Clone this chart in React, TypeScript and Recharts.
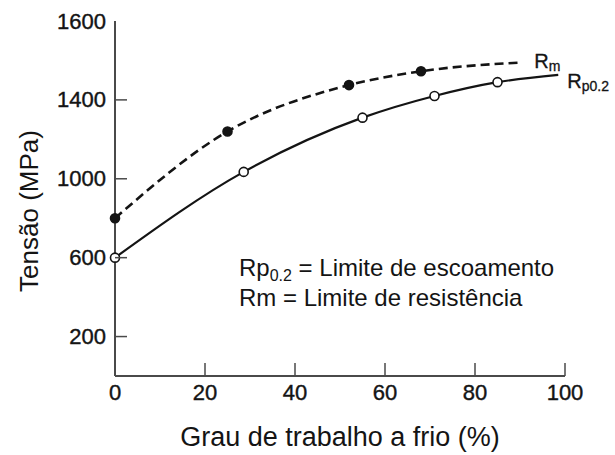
import { LineChart, Line, XAxis, YAxis, Customized } from "recharts";

// Cold work (%) vs stress (MPa)
const rmX = [0, 25, 52, 68, 90.5];
const rmY = [800, 1240, 1475, 1545, 1590];
const rmMarked = [true, true, true, true, false];

const rpX = [0, 28.6, 55, 71, 85, 98.5];
const rpY = [600, 1035, 1310, 1420, 1490, 1527];
const rpMarked = [true, true, true, true, true, false];

const xTicks = [0, 20, 40, 60, 80, 100];
const yTicks = [200, 600, 1000, 1400, 1800];
const yTickLabels = ["200", "600", "1000", "1400", "1600"];

const FONT = "'Liberation Sans', Arial, Helvetica, sans-serif";
const INK = "#141414";
const AXIS = "#4a4a4a";

const rmData = rmX.map((x, i) => ({ x, y: rmY[i], marked: rmMarked[i] }));
const rpData = rpX.map((x, i) => ({ x, y: rpY[i], marked: rpMarked[i] }));

function makeDot(filled: boolean) {
  return (props: any) => {
    const { cx, cy, payload, index } = props;
    if (!payload.marked) return <g key={`d${index}`} />;
    return (
      <circle
        key={`d${index}`}
        cx={cx}
        cy={cy}
        r={4.5}
        fill={filled ? INK : "#fff"}
        stroke={INK}
        strokeWidth={1.6}
      />
    );
  };
}

function makeEndLabel(sub: string, last: number, dx: number, dy: number) {
  return (props: any) => {
    const { x, y, index } = props;
    if (index !== last) return <g key={`l${index}`} />;
    return (
      <text
        key={`l${index}`}
        x={x + dx}
        y={y + dy}
        fontFamily={FONT}
        fontSize={20}
        fill={INK}
        stroke={INK}
        strokeWidth={0.3}
      >
        R
        <tspan fontSize={14} dy={3}>
          {sub}
        </tspan>
      </text>
    );
  };
}

const YTick = (props: any) => {
  const { x, y, payload, index } = props;
  const axisX = x + 9;
  return (
    <g>
      {index < yTicks.length - 1 && (
        <line x1={axisX} y1={y} x2={axisX + 12} y2={y} stroke={AXIS} strokeWidth={1.5} />
      )}
      <text
        x={x}
        y={y}
        textAnchor="end"
        dominantBaseline="central"
        fontFamily={FONT}
        fontSize={22}
        fill={INK}
        stroke={INK}
        strokeWidth={0.4}
      >
        {yTickLabels[yTicks.indexOf(payload.value)]}
      </text>
    </g>
  );
};

const XTick = (props: any) => {
  const { x, y, payload } = props;
  const axisY = y - 8;
  return (
    <g>
      {payload.value !== 0 && (
        <line x1={x} y1={axisY} x2={x} y2={axisY - 13} stroke={AXIS} strokeWidth={1.5} />
      )}
      <text
        x={x}
        y={y + 16}
        textAnchor="middle"
        fontFamily={FONT}
        fontSize={22}
        fill={INK}
        stroke={INK}
        strokeWidth={0.4}
      >
        {payload.value}
      </text>
    </g>
  );
};

const Notes = () => (
  <g fontFamily={FONT} fill={INK}>
    <text
      x={29}
      y={211}
      fontSize={26}
      textAnchor="middle"
      dominantBaseline="central"
      transform="rotate(-90 29 211)"
    >
      Tensão (MPa)
    </text>
    <text x={239} y={276} fontSize={24}>
      Rp
      <tspan fontSize={16} dy={5}>
        0.2
      </tspan>
      <tspan dy={-5}> = Limite de escoamento</tspan>
    </text>
    <text x={239} y={306} fontSize={24}>
      Rm = Limite de resistência
    </text>
  </g>
);

export default function App() {
  return (
    <div style={{ position: "absolute", left: 0, top: 0, width: 615, height: 455, background: "#fff" }}>
      <LineChart
        width={615}
        height={455}
        margin={{ top: 21, right: 50, bottom: 3, left: 55 }}
      >
        <XAxis
          type="number"
          dataKey="x"
          domain={[0, 100]}
          ticks={xTicks}
          height={76}
          tickSize={0}
          tickMargin={8}
          tickLine={false}
          axisLine={{ stroke: AXIS, strokeWidth: 2 }}
          tick={<XTick />}
          label={{
            value: "Grau de trabalho a frio (%)",
            position: "insideBottom",
            offset: 6,
            fontSize: 27,
            fontFamily: FONT,
            fill: INK,
          }}
        />
        <YAxis
          type="number"
          domain={[0, 1800]}
          ticks={yTicks}
          width={60}
          tickSize={0}
          tickMargin={9}
          tickLine={false}
          axisLine={{ stroke: AXIS, strokeWidth: 2 }}
          tick={<YTick />}
        />
        <Line
          data={rmData}
          dataKey="y"
          type="monotone"
          stroke={INK}
          strokeWidth={2.6}
          strokeDasharray="9 5"
          dot={makeDot(true)}
          label={makeEndLabel("m", rmData.length - 1, 12, 6)}
          isAnimationActive={false}
        />
        <Line
          data={rpData}
          dataKey="y"
          type="monotone"
          stroke={INK}
          strokeWidth={2.2}
          dot={makeDot(false)}
          label={makeEndLabel("p0.2", rpData.length - 1, 9, 13)}
          isAnimationActive={false}
        />
        <Customized component={Notes} />
      </LineChart>
    </div>
  );
}
